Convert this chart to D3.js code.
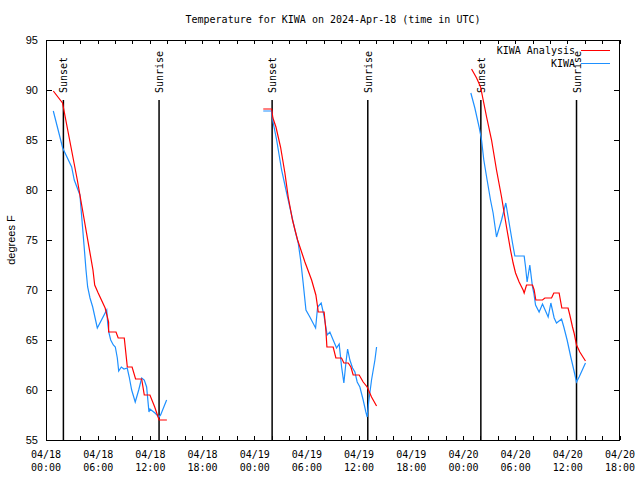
<!DOCTYPE html>
<html><head><meta charset="utf-8">
<script src="https://cdn.jsdelivr.net/npm/d3@7"></script>
<style>body{margin:0;background:#fff}svg{display:block}</style>
</head><body>
<script>
// Hours after 2024-04-18 00:00 UTC; NaN breaks a line
const analysisHours = [0.84,1.9,3.6,5.4,5.6,6.0,6.8,7.2,7.2,8.05,8.3,9.0,9.35,9.9,10.3,11.0,11.3,11.95,12.5,13.0,13.9,
  NaN,
  24.98,25.94,26.09,26.44,26.97,27.47,27.85,28.34,28.93,29.77,30.54,31.03,31.23,31.3,31.98,32.18,32.3,33.02,33.33,33.98,34.25,34.75,35.06,35.32,36.01,36.47,36.93,37.43,38.01,
  NaN,
  48.93,49.51,49.97,50.2,50.66,51.23,51.8,52.38,52.95,53.41,53.71,53.99,54.4,54.86,54.98,55.25,55.94,56.13,56.32,57.09,57.36,58.13,58.39,59.0,59.31,60.03,60.23,60.54,60.72,61.0,61.38,62.03];
const analysisTemps = [89.9,88.7,81.0,72.0,70.5,69.7,68.2,66.8,65.8,65.8,65.2,65.2,62.3,62.3,61.1,61.1,59.5,59.5,58.3,57.0,57.0,
  NaN,
  88.1,88.1,87.2,86.3,84.3,81.7,79.3,77.0,75.0,72.8,71.0,69.5,68.3,67.8,67.8,66.0,64.3,64.3,63.2,63.2,62.7,62.7,62.3,61.5,61.5,60.8,60.3,59.3,58.4,
  NaN,
  92.1,91.2,90.3,89.3,87.3,85.0,82.0,79.3,76.3,74.0,72.7,71.7,70.8,70.0,69.7,70.5,70.5,70.0,69.0,69.0,69.2,69.2,69.7,69.7,68.2,68.2,67.5,66.3,65.7,64.5,63.8,62.9];

const obsHours = [0.84,1.92,2.95,3.25,3.9,4.37,4.6,4.79,5.06,5.37,5.9,6.98,7.09,7.24,7.44,7.74,7.97,8.2,8.36,8.66,8.97,9.34,9.57,9.85,10.26,10.66,11.0,11.3,11.57,11.84,11.95,12.53,12.99,13.18,13.87,
  NaN,
  24.98,25.94,26.06,26.52,27.09,27.67,28.24,28.62,29.0,29.28,29.57,29.89,30.34,31.0,31.23,31.64,31.95,32.33,32.64,33.02,33.41,33.71,33.99,34.25,34.48,34.68,34.94,35.25,35.52,35.78,36.09,36.47,36.78,36.93,37.09,37.43,37.82,38.01,
  NaN,
  48.85,49.31,49.8,50.08,50.34,50.72,51.11,51.41,51.8,52.38,52.87,53.33,53.64,53.91,54.98,55.14,55.32,55.63,55.94,56.09,56.29,56.7,57.09,57.74,58.05,58.43,58.7,59.28,59.54,59.92,60.34,60.69,61.0,61.3,62.03];
const obsTemps = [87.9,84.2,82.3,81.0,79.5,74.5,72.0,70.3,69.2,68.3,66.2,68.0,66.7,65.7,65.0,64.5,64.3,63.2,61.9,62.3,62.1,62.2,61.3,60.0,58.8,60.0,61.2,61.0,60.3,57.8,58.1,57.7,57.3,57.5,59.0,
  NaN,
  87.9,87.9,87.0,85.0,82.0,79.7,77.5,76.0,74.7,73.0,70.7,68.0,67.3,66.2,68.3,68.7,67.5,65.5,65.8,65.0,64.2,64.6,62.3,60.7,62.7,64.1,63.0,62.2,61.8,60.8,60.3,59.0,57.8,57.3,58.7,61.0,63.0,64.3,
  NaN,
  89.7,88.2,86.3,85.0,83.0,81.0,79.0,77.7,75.3,77.0,78.7,76.3,74.7,73.4,73.4,72.3,70.8,72.5,70.3,69.7,68.5,67.8,68.6,67.3,68.7,67.2,66.7,67.1,66.3,65.0,63.3,62.0,60.8,61.3,62.7];

const sunEventHours = [2, 13, 26, 37, 50, 61];
const sunEventLabels = ["Sunset","Sunrise","Sunset","Sunrise","Sunset","Sunrise"];
const yTicks = [55,60,65,70,75,80,85,90,95];
const seriesNames = ["KIWA Analysis","KIWA"];
const seriesColors = ["#ff0000","#1e90ff"];
const titleText = "Temperature for KIWA on 2024-Apr-18 (time in UTC)";
const yLabel = "degrees F";

const W = 640, H = 480;
const m = {l:46, r:20, t:40, b:40};
const base = Date.UTC(2024,3,18,0,0);
const toDate = h => new Date(base + h*3600000);

const svg = d3.select("body").append("svg").attr("width",W).attr("height",H);
const x = d3.scaleUtc().domain([toDate(0), toDate(66)]).range([m.l, W-m.r]);
const y = d3.scaleLinear().domain([55,95]).range([H-m.b, m.t]);

const mono = "'DejaVu Sans Mono', monospace";
const sans = "'Liberation Sans', Arial, sans-serif";

// title
svg.append("text").attr("x",(m.l+W-m.r)/2).attr("y",23).attr("text-anchor","middle")
  .attr("font-family",mono).attr("font-size",10).text(titleText);

// y label
svg.append("text").attr("transform",`translate(15,${(m.t+H-m.b)/2}) rotate(-90)`)
  .attr("text-anchor","middle").attr("font-family",sans).attr("font-size",11).text(yLabel);

// ticks
const minorTicks = d3.range(0,67,2).map(toDate);
const majorTicks = d3.range(0,67,6).map(toDate);
const fmt1 = d3.utcFormat("%m/%d"), fmt2 = d3.utcFormat("%H:%M");

const g = svg.append("g").attr("shape-rendering","crispEdges");
minorTicks.forEach(d=>{
  g.append("line").attr("x1",x(d)).attr("x2",x(d)).attr("y1",H-m.b).attr("y2",H-m.b-4).attr("stroke","#000");
  g.append("line").attr("x1",x(d)).attr("x2",x(d)).attr("y1",m.t).attr("y2",m.t+4).attr("stroke","#000");
});
majorTicks.forEach(d=>{
  const t = svg.append("text").attr("x",x(d)).attr("text-anchor","middle").attr("font-family",mono).attr("font-size",10);
  t.append("tspan").attr("x",x(d)).attr("y",458).text(fmt1(d));
  t.append("tspan").attr("x",x(d)).attr("y",471).text(fmt2(d));
});
yTicks.forEach(v=>{
  g.append("line").attr("x1",m.l).attr("x2",m.l+6).attr("y1",y(v)).attr("y2",y(v)).attr("stroke","#000");
  g.append("line").attr("x1",W-m.r).attr("x2",W-m.r-6).attr("y1",y(v)).attr("y2",y(v)).attr("stroke","#000");
  svg.append("text").attr("x",38).attr("y",y(v)+4).attr("text-anchor","end")
    .attr("font-family",sans).attr("font-size",11).text(v);
});

// sunrise / sunset
sunEventHours.forEach((h,i)=>{
  const xx = x(toDate(h));
  svg.append("line").attr("x1",xx).attr("x2",xx).attr("y1",100).attr("y2",H-m.b)
    .attr("stroke","#000").attr("stroke-width",1.5);
  svg.append("text").attr("transform",`translate(${xx+4},93) rotate(-90)`)
    .attr("font-family",mono).attr("font-size",10).text(sunEventLabels[i]);
});

// series
const mk = (hs, ts) => hs.map((h,i)=>({t:toDate(h), v:ts[i], ok: !isNaN(h) && !isNaN(ts[i])}));
const line = d3.line().defined(d=>d.ok).x(d=>x(d.t)).y(d=>y(d.v));
const data = [mk(analysisHours, analysisTemps), mk(obsHours, obsTemps)];
[1,0].forEach(i=>{
  svg.append("path").attr("d",line(data[i])).attr("fill","none")
    .attr("stroke",seriesColors[i]).attr("stroke-width",1.2);
});

// frame
svg.append("rect").attr("x",m.l+0.5).attr("y",m.t+0.5).attr("width",W-m.r-m.l-1).attr("height",H-m.b-m.t)
  .attr("fill","none").attr("stroke","#000").attr("shape-rendering","crispEdges");

// legend
seriesNames.forEach((n,i)=>{
  const yy = 50 + i*13;
  svg.append("text").attr("x",575).attr("y",yy+4).attr("text-anchor","end")
    .attr("font-family",mono).attr("font-size",10).text(n);
  svg.append("line").attr("x1",581).attr("x2",610).attr("y1",yy).attr("y2",yy)
    .attr("stroke",seriesColors[i]).attr("stroke-width",1).attr("shape-rendering","crispEdges");
});
</script>
</body></html>
